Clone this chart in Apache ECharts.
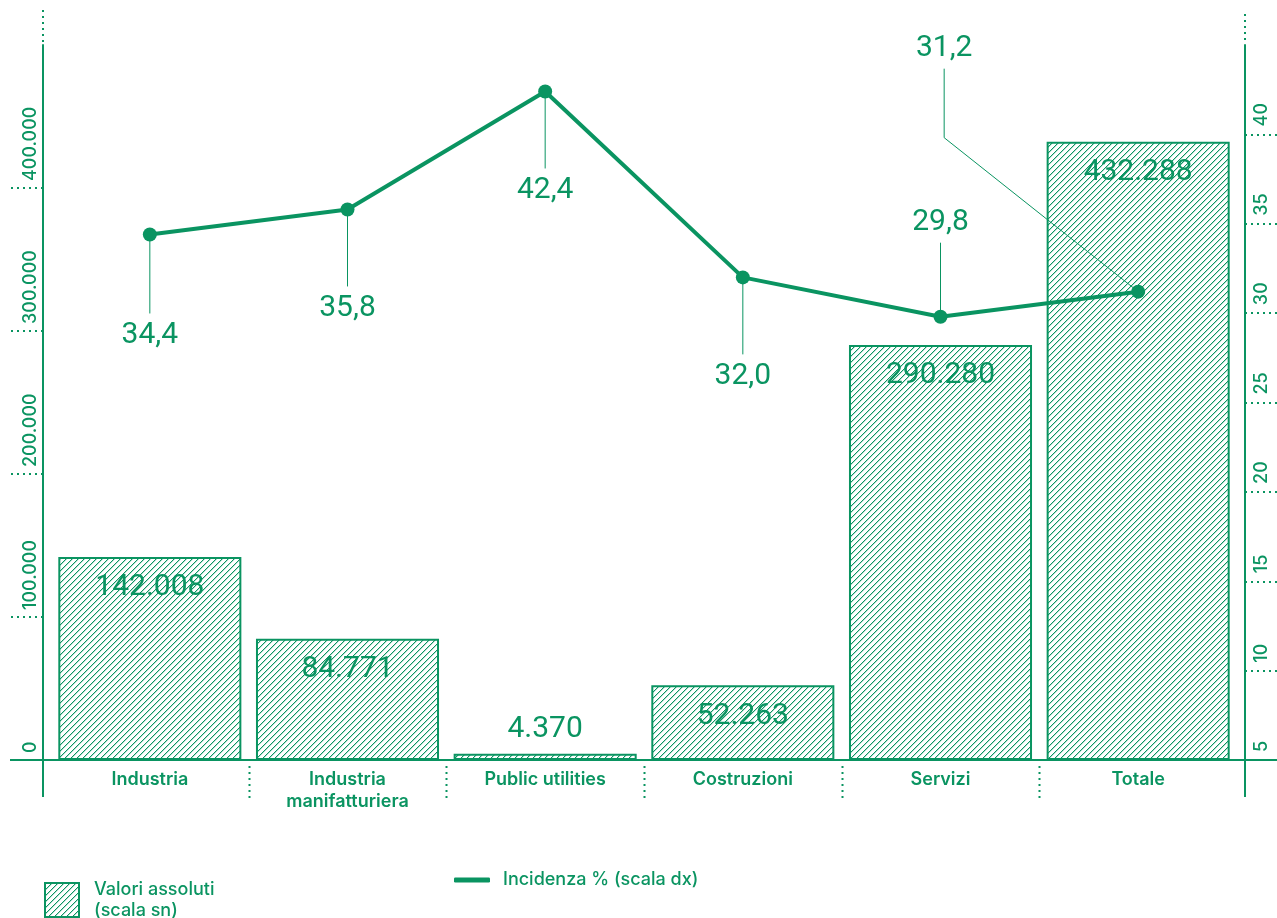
<!DOCTYPE html>
<html>
<head>
<meta charset="utf-8">
<script src="https://cdn.jsdelivr.net/npm/echarts@6/dist/echarts.min.js"></script>
<style>
  html, body { margin: 0; padding: 0; background: #ffffff; }
  #chart { width: 1277px; height: 918px; }
</style>
</head>
<body>
<div id="chart"></div>
<script>
// ---- data ----
const categories = ['Industria', 'Industria\nmanifatturiera', 'Public utilities', 'Costruzioni', 'Servizi', 'Totale'];
const valoriAssoluti = [142008, 84771, 4370, 52263, 290280, 432288];
const incidenza = [34.4, 35.8, 42.4, 32.0, 29.8, 31.2];
const leftTickValues = [0, 100000, 200000, 300000, 400000];
const rightTickValues = [5, 10, 15, 20, 25, 30, 35, 40];

// ---- styling ----
const GREEN = '#0a9461';
const FONT = 'Inter, "Noto Sans", sans-serif';
const NUM_FONT = 'Roboto, Inter, sans-serif';
const DOTS = [2, 4];

// label placement for the percentage callouts (pixel offsets from the point)
const calloutLayout = [
  { dx: 0, dy: 101 },
  { dx: 0, dy: 99 },
  { dx: 0, dy: 99 },
  { dx: 0, dy: 99 },
  { dx: 0, dy: -94 },
  { dx: -194, dy: -243, elbow: -154 }
];

const fmtThousands = v => String(v).replace(/\B(?=(\d{3})+(?!\d))/g, '.');
const fmtDecimal = v => v.toFixed(1).replace('.', ',');

// diagonal "/" hatch tile used to fill the bars, drawn pixel by pixel
function hatchTile() {
  const n = 6;
  const c = document.createElement('canvas');
  c.width = n; c.height = n;
  const g = c.getContext('2d');
  const img = g.createImageData(n, n);
  const rgb = [10, 148, 97];
  for (let y = 0; y < n; y++) {
    for (let x = 0; x < n; x++) {
      const k = (x + y) % n;
      const a = k === 0 ? 1 : (k === 1 ? 0.3 : 0);
      const i = (y * n + x) * 4;
      img.data[i] = Math.round(255 + (rgb[0] - 255) * a);
      img.data[i + 1] = Math.round(255 + (rgb[1] - 255) * a);
      img.data[i + 2] = Math.round(255 + (rgb[2] - 255) * a);
      img.data[i + 3] = 255;
    }
  }
  g.putImageData(img, 0, 0);
  return c;
}
const hatch = { image: hatchTile(), repeat: 'repeat' };

const chart = echarts.init(document.getElementById('chart'), null, { renderer: 'canvas' });

const option = {
  animation: false,
  backgroundColor: '#ffffff',
  textStyle: { fontFamily: FONT },
  grid: { left: 51, right: 40, top: 45, bottom: 158, containLabel: false },
  legend: [
    {
      data: ['Valori assoluti\n(scala sn)'],
      left: 44, top: 876, padding: 0,
      itemWidth: 34, itemHeight: 34,
      icon: 'rect',
      selectedMode: false,
      itemStyle: { color: hatch, borderColor: GREEN, borderWidth: 2 },
      textStyle: { color: GREEN, fontSize: 18, fontWeight: 500, lineHeight: 21, fontFamily: FONT, padding: [0, 0, 6, 10] }
    },
    {
      data: ['Incidenza % (scala dx)'],
      left: 454, top: 869, padding: 0,
      itemWidth: 36, itemHeight: 5,
      icon: 'roundRect',
      selectedMode: false,
      textStyle: { color: GREEN, fontSize: 18, fontWeight: 500, lineHeight: 22, fontFamily: FONT, padding: [0, 0, 0, 8] }
    }
  ],
  xAxis: {
    type: 'category',
    data: categories,
    axisLine: { show: false },
    axisTick: { show: false },
    axisLabel: {
      color: GREEN, fontSize: 18, fontWeight: 600, lineHeight: 22,
      fontFamily: FONT, margin: 9, interval: 0
    },
    splitLine: { show: false }
  },
  yAxis: [
    {
      type: 'value', position: 'left', offset: 8,
      min: 0, max: 500000, interval: 100000,
      axisLine: { show: true, lineStyle: { color: GREEN, width: 2 } },
      axisTick: { show: true, length: 35, customValues: leftTickValues, lineStyle: { color: GREEN, width: 2, type: DOTS } },
      axisLabel: {
        customValues: leftTickValues,
        rotate: 90, align: 'left', verticalAlign: 'bottom', margin: 3,
        color: GREEN, fontSize: 18, fontWeight: 500, fontFamily: FONT,
        padding: [0, 0, 0, 7],
        formatter: v => fmtThousands(v)
      },
      splitLine: { show: false }
    },
    {
      type: 'value', position: 'right', offset: 8,
      min: 5, max: 45, interval: 5,
      axisLine: { show: true, lineStyle: { color: GREEN, width: 2 } },
      axisTick: { show: true, length: 32, customValues: rightTickValues, lineStyle: { color: GREEN, width: 2, type: DOTS } },
      axisLabel: {
        customValues: rightTickValues,
        rotate: 90, align: 'left', verticalAlign: 'top', margin: 8,
        color: GREEN, fontSize: 18, fontWeight: 500, fontFamily: FONT,
        padding: [0, 0, 0, 8]
      },
      splitLine: { show: false }
    }
  ],
  series: [
    {
      name: 'Valori assoluti\n(scala sn)',
      type: 'bar',
      yAxisIndex: 0,
      barCategoryGap: '7.4%',
      data: valoriAssoluti.map((v, i) => i === 2
        ? { value: v, label: { position: 'top', distance: 9 } }
        : v),
      itemStyle: { color: hatch, borderColor: GREEN, borderWidth: 2 },
      label: {
        show: true, position: 'insideTop', distance: 16,
        color: GREEN, fontSize: 30, fontWeight: 400, fontFamily: NUM_FONT,
        formatter: p => fmtThousands(p.value)
      },
      z: 2
    },
    {
      name: 'callouts',
      type: 'custom',
      yAxisIndex: 1,
      clip: false,
      data: incidenza.map((v, i) => [i, v]),
      renderItem: (params, api) => {
        const i = params.dataIndex;
        const v = api.value(1);
        const p = api.coord([api.value(0), v]);
        const o = calloutLayout[i];
        const lx = p[0] + o.dx;
        const ly = p[1] + o.dy;
        const end = [lx, ly + (o.dy > 0 ? -22 : 20)];
        const pts = o.elbow != null ? [end, [lx, p[1] + o.elbow], p] : [end, p];
        return {
          type: 'group',
          children: [
            { type: 'polyline', shape: { points: pts }, style: { stroke: GREEN, lineWidth: 1, fill: null } },
            {
              type: 'text', x: lx, y: ly,
              style: {
                text: fmtDecimal(v), fill: GREEN,
                font: '400 30px ' + NUM_FONT,
                align: 'center', verticalAlign: 'middle'
              }
            }
          ]
        };
      },
      z: 3
    },
    {
      name: 'Incidenza % (scala dx)',
      type: 'line',
      yAxisIndex: 1,
      data: incidenza,
      symbol: 'circle',
      symbolSize: 14,
      itemStyle: { color: GREEN },
      lineStyle: { color: GREEN, width: 4 },
      label: { show: false },
      z: 5
    }
  ]
};

chart.setOption(option);

// axis frame extensions and dotted category separators
function decorations() {
  const base = chart.convertToPixel({ yAxisIndex: 0 }, 0);
  const top = chart.convertToPixel({ yAxisIndex: 0 }, 500000);
  const xl = chart.convertToPixel({ xAxisIndex: 0 }, 0);
  const step = chart.convertToPixel({ xAxisIndex: 0 }, 1) - xl;
  const leftAxisX = xl - step / 2 - 8;
  const rightAxisX = xl + step * (categories.length - 0.5) + 8;
  const els = [
    { type: 'line', shape: { x1: 10, y1: base, x2: 1277, y2: base }, style: { stroke: GREEN, lineWidth: 2 } },
    { type: 'line', shape: { x1: leftAxisX, y1: base, x2: leftAxisX, y2: base + 37 }, style: { stroke: GREEN, lineWidth: 2 } },
    { type: 'line', shape: { x1: rightAxisX, y1: base, x2: rightAxisX, y2: base + 37 }, style: { stroke: GREEN, lineWidth: 2 } },
    { type: 'line', shape: { x1: leftAxisX, y1: 10, x2: leftAxisX, y2: top - 3 }, style: { stroke: GREEN, lineWidth: 2, lineDash: DOTS } },
    { type: 'line', shape: { x1: rightAxisX, y1: 14, x2: rightAxisX, y2: top - 3 }, style: { stroke: GREEN, lineWidth: 2, lineDash: DOTS } }
  ];
  for (let i = 1; i < categories.length; i++) {
    const x = Math.round(xl + step * (i - 0.5)) + 0.5;
    els.push({ type: 'line', shape: { x1: x, y1: base + 6, x2: x, y2: base + 38 }, style: { stroke: GREEN, lineWidth: 2, lineDash: DOTS } });
  }
  chart.setOption({ graphic: els.map(e => Object.assign({ silent: true, z: 1 }, e)) });
}
decorations();
</script>
</body>
</html>
